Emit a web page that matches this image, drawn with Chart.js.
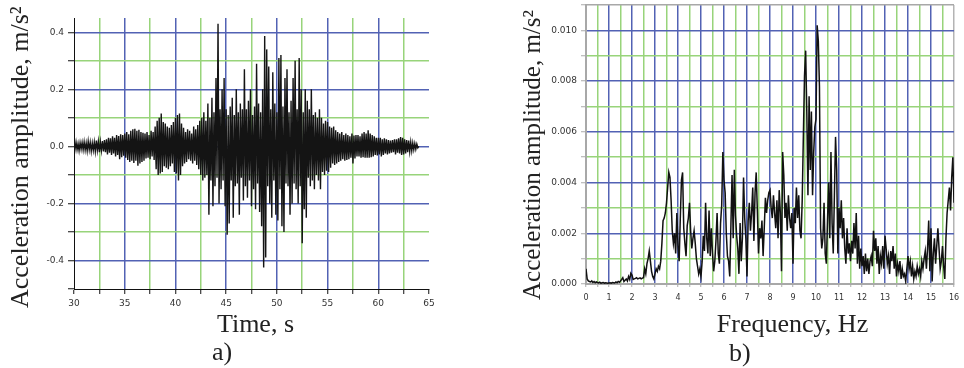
<!DOCTYPE html>
<html>
<head>
<meta charset="utf-8">
<script src="https://cdn.jsdelivr.net/npm/chart.js@4.4.1/dist/chart.umd.min.js"></script>
<style>
  html, body { margin: 0; padding: 0; background: #fff; }
  #wrap { position: relative; width: 964px; height: 368px; overflow: hidden; }
  canvas { position: absolute; top: 0; }
  #timeCanvas { left: 0; }
  #freqCanvas { left: 480px; }
  .label {
    position: absolute;
    font-family: 'Liberation Serif', 'Times New Roman', serif;
    font-size: 26px;
    line-height: 26px;
    color: #222;
    white-space: nowrap;
  }
  .ytitle { width: 320px; text-align: left; transform: rotate(-90deg); }
  .xtitle { width: 200px; text-align: center; }
</style>
</head>
<body>
<div id="wrap">
  <canvas id="timeCanvas" width="440" height="368"></canvas>
  <canvas id="freqCanvas" width="484" height="368"></canvas>
  <div class="label ytitle" style="left:-140.5px; top:135px;">Acceleration amplitude, m/s²</div>
  <div class="label xtitle" style="left:155.5px; top:311px;">Time, s</div>
  <div class="label" style="left:212px; top:339px;">a)</div>
  <div class="label ytitle" style="left:371.5px; top:127px; font-size:25px;">Acceleration amplitude, m/s²</div>
  <div class="label xtitle" style="left:692.5px; top:311px;">Frequency, Hz</div>
  <div class="label" style="left:729px; top:340px;">b)</div>
</div>
<script>
// a) acceleration record, one value every 0.1 s starting at 30 s
const timeStart = 30;
const timeStep = 0.1;
const accel = [
  0.012,-0.01,0.015,-0.012,0.01,-0.015,0.013,-0.01,0.014,-0.012,
  0.016,-0.013,0.012,-0.016,0.018,-0.012,0.014,-0.017,0.012,-0.014,
  0.015,-0.018,0.02,-0.014,0.017,-0.02,0.016,-0.015,0.019,-0.018,
  0.022,-0.02,0.025,-0.028,0.03,-0.022,0.028,-0.03,0.035,-0.025,
  0.03,-0.035,0.04,-0.03,0.036,-0.045,0.042,-0.038,0.04,-0.033,
  0.045,-0.04,0.05,-0.048,0.042,-0.055,0.055,-0.05,0.06,-0.058,
  0.062,-0.05,0.055,-0.068,0.058,-0.06,0.05,-0.055,0.048,-0.05,
  0.045,-0.042,0.05,-0.04,0.04,-0.045,0.055,-0.035,0.05,-0.048,
  0.07,-0.08,0.09,-0.1,0.1,-0.095,0.115,-0.09,0.085,-0.07,
  0.08,-0.075,0.07,-0.08,0.065,-0.07,0.075,-0.06,0.085,-0.09,
  0.1,-0.095,0.11,-0.12,0.115,-0.1,0.08,-0.07,0.065,-0.06,
  0.05,-0.055,0.06,-0.045,0.055,-0.05,0.045,-0.06,0.07,-0.05,
  0.06,-0.065,0.075,-0.08,0.09,-0.1,0.1,-0.12,0.12,-0.11,
  0.09,-0.1,0.15,-0.24,0.1,-0.12,0.17,-0.21,0.12,-0.14,
  0.24,-0.11,0.43,-0.2,0.13,-0.15,0.2,-0.12,0.24,-0.21,
  0.13,-0.31,0.11,-0.27,0.14,-0.12,0.17,-0.25,0.11,-0.14,
  0.2,-0.13,0.12,-0.24,0.15,-0.11,0.13,-0.19,0.27,-0.14,
  0.13,-0.18,0.16,-0.12,0.2,-0.21,0.11,-0.15,0.14,-0.22,
  0.29,-0.13,0.15,-0.23,0.12,-0.28,0.2,-0.425,0.387,-0.39,
  0.34,-0.14,0.28,-0.2,0.13,-0.25,0.26,-0.12,0.15,-0.24,
  0.12,-0.26,0.31,-0.15,0.32,-0.28,0.14,-0.3,0.24,-0.13,
  0.27,-0.14,0.12,-0.24,0.16,-0.2,0.24,-0.13,0.3,-0.15,
  0.13,-0.2,0.31,-0.14,0.2,-0.34,0.12,-0.22,0.2,-0.25,
  0.16,-0.11,0.13,-0.14,0.2,-0.12,0.11,-0.15,0.12,-0.1,
  0.1,-0.12,0.13,-0.15,0.1,-0.09,0.08,-0.1,0.09,-0.085,
  0.085,-0.09,0.07,-0.075,0.065,-0.06,0.07,-0.065,0.056,-0.06,
  0.05,-0.055,0.045,-0.05,0.05,-0.045,0.04,-0.05,0.045,-0.048,
  0.04,-0.045,0.035,-0.04,0.045,-0.06,0.038,-0.042,0.04,-0.035,
  0.04,-0.035,0.035,-0.04,0.045,-0.038,0.05,-0.04,0.045,-0.04,
  0.056,-0.04,0.045,-0.038,0.04,-0.035,0.035,-0.03,0.03,-0.032,
  0.03,-0.028,0.03,-0.035,0.025,-0.03,0.028,-0.025,0.025,-0.028,
  0.022,-0.025,0.02,-0.022,0.022,-0.02,0.025,-0.028,0.025,-0.022,
  0.028,-0.025,0.033,-0.03,0.03,-0.028,0.025,-0.025,0.022,-0.02,
  0.02,-0.018,0.015,-0.016,0.012,-0.012,0.01,-0.01,0.008,-0.005,
  0
];
const timeTicks = [30, 32.5, 35, 37.5, 40, 42.5, 45, 47.5, 50, 52.5, 55, 57.5, 60, 62.5, 65];
const accelTicks = [-0.5, -0.4, -0.3, -0.2, -0.1, 0, 0.1, 0.2, 0.3, 0.4];

// b) Fourier amplitude spectrum, one value every 0.05 Hz from 0 Hz
const freqStep = 0.05;
const spectrum = [
  0.0006,0.0002,0.00012,0.0001,0.00008,0.00012,0.00006,0.0001,0.00005,0.00008,
  0.00006,0.00004,0.00007,0.00003,0.00005,0.00006,0.00003,0.00005,0.00004,0.00003,
  0.00004,0.00005,0.00003,0.00006,0.00005,0.00004,0.00008,0.00005,0.0001,0.00007,
  0.00012,0.00018,0.00025,0.0001,0.00015,0.0002,0.00012,0.0003,0.00018,0.00042,
  0.00035,0.00018,0.0002,0.00022,0.00025,0.0002,0.00022,0.00024,0.0002,0.00023,
  0.00025,0.0006,0.0004,0.0008,0.001,0.0013,0.0009,0.0005,0.0003,0.0002,
  0.0004,0.0006,0.0005,0.0007,0.0006,0.0009,0.0016,0.0025,0.0026,0.0028,
  0.0032,0.0038,0.0044,0.0042,0.0033,0.0021,0.0016,0.002,0.0012,0.0028,
  0.0015,0.0009,0.0026,0.0041,0.0044,0.0022,0.0016,0.0011,0.0023,0.0026,
  0.0032,0.0021,0.0014,0.0018,0.0021,0.0016,0.001,0.0007,0.0004,0.0006,
  0.0003,0.0009,0.0019,0.0013,0.0032,0.0018,0.0012,0.0029,0.0011,0.0022,
  0.0012,0.0005,0.0009,0.0017,0.0028,0.0012,0.0008,0.0024,0.0031,0.0052,
  0.0041,0.0036,0.002,0.0011,0.0009,0.0003,0.0023,0.0043,0.0018,0.0045,
  0.0027,0.0019,0.0014,0.0004,0.0024,0.0009,0.0018,0.0042,0.0026,0.0018,
  0.0003,0.0025,0.0032,0.0021,0.0028,0.0038,0.0017,0.0036,0.0044,0.0029,
  0.0012,0.0022,0.0018,0.0025,0.0011,0.0022,0.0034,0.0028,0.0033,0.0036,
  0.0037,0.003,0.0026,0.0035,0.0028,0.0022,0.0033,0.0018,0.0037,0.0028,
  0.0005,0.0052,0.0043,0.0026,0.0032,0.0021,0.0035,0.0026,0.0022,0.0028,
  0.0008,0.003,0.0024,0.0038,0.0026,0.0035,0.0021,0.0018,0.0033,0.0058,
  0.0082,0.0092,0.0068,0.0035,0.0074,0.0045,0.0068,0.0035,0.0052,0.0062,
  0.0065,0.0102,0.0096,0.0078,0.0022,0.0014,0.0018,0.0032,0.0012,0.0008,
  0.0025,0.004,0.0018,0.0052,0.0024,0.0012,0.0035,0.0058,0.0045,0.0012,
  0.003,0.0022,0.0033,0.0018,0.0026,0.0014,0.0008,0.0022,0.0012,0.0016,
  0.0009,0.0017,0.0012,0.0024,0.0014,0.0028,0.0008,0.0019,0.0006,0.0014,
  0.0007,0.0011,0.0004,0.0012,0.0005,0.001,0.0004,0.0009,0.0011,0.0007,
  0.0021,0.0013,0.0018,0.0008,0.0015,0.0004,0.0011,0.0008,0.0015,0.0006,
  0.0019,0.0014,0.0008,0.0011,0.0004,0.0013,0.0009,0.0015,0.0006,0.0012,
  0.0003,0.0008,0.0005,0.0009,0.0002,0.0006,0.0003,0.0004,0.0001,0.0006,
  0.0011,0.0006,0.0009,0.0003,0.0007,0.0002,0.0005,0.0003,0.0007,0.0004,
  0.0006,0.0003,0.0009,0.0006,0.001,0.0013,0.0006,0.0014,0.0025,0.0005,
  0.0022,0.0001,0.0012,0.0018,0.0008,0.0015,0.0022,0.0014,0.0006,0.0009,
  0.0015,0.0007,0.0002,0.0018,0.0028,0.0033,0.0038,0.0029,0.0042,0.005,
  0.0032
];
const freqTicks = [0, 0.5, 1, 1.5, 2, 2.5, 3, 3.5, 4, 4.5, 5, 5.5, 6, 6.5, 7, 7.5, 8,
  8.5, 9, 9.5, 10, 10.5, 11, 11.5, 12, 12.5, 13, 13.5, 14, 14.5, 15, 15.5, 16];
const specTicks = [0, 0.001, 0.002, 0.003, 0.004, 0.005, 0.006, 0.007, 0.008, 0.009, 0.01, 0.011];

const blue = '#5262b4';
const green = '#98d47a';
const none = 'rgba(0,0,0,0)';
const gridWidth = 1.5;
const tickFont = { family: "'DejaVu Sans', Verdana, sans-serif", size: 9 };

const timePoints = accel.map((v, i) => ({ x: +(timeStart + i * timeStep).toFixed(2), y: v }));
const freqPoints = spectrum.map((v, i) => ({ x: +(i * freqStep).toFixed(2), y: v }));

const fixedTicks = list => scale => { scale.ticks = list.map(v => ({ value: v })); };
// grid colour picked from the tick list by index
const gridColor = (list, pick) => c => {
  const v = list[c.index];
  return v === undefined ? none : pick(v);
};

new Chart(document.getElementById('timeCanvas'), {
  type: 'line',
  data: {
    datasets: [{ data: timePoints, borderColor: '#141414', borderWidth: 1.4, pointRadius: 0, tension: 0 }]
  },
  options: {
    responsive: false,
    animation: false,
    plugins: { legend: { display: false }, tooltip: { enabled: false } },
    layout: { padding: { top: 18, right: 11, left: 0, bottom: 0 } },
    scales: {
      x: {
        type: 'linear', min: 30, max: 65,
        afterFit: s => { s.height = 79; s.paddingLeft = 0; s.paddingRight = 0; },
        afterBuildTicks: fixedTicks(timeTicks),
        ticks: {
          autoSkip: false, maxRotation: 0, padding: 4, color: '#333', font: tickFont,
          callback: v => (v % 5 === 0 ? String(v) : '')
        },
        grid: {
          color: gridColor(timeTicks, v => (v === 30 || v === 65 ? none : v % 5 === 0 ? blue : green)),
          lineWidth: gridWidth, tickLength: 5, tickColor: '#111', tickWidth: 1
        },
        border: { color: '#111', width: 1 }
      },
      y: {
        type: 'linear', min: -0.5, max: 0.45,
        afterFit: s => { s.width = 74; s.paddingTop = 0; s.paddingBottom = 0; },
        afterBuildTicks: fixedTicks(accelTicks),
        ticks: {
          autoSkip: false, padding: 4, color: '#333', font: tickFont,
          callback: v => (Math.round(v * 10) % 2 === 0 && v > -0.45 ? v.toFixed(1) : '')
        },
        grid: {
          color: gridColor(accelTicks, v => (v <= -0.45 ? none : Math.round(v * 10) % 2 === 0 ? blue : green)),
          lineWidth: gridWidth, tickLength: 6, tickColor: '#111', tickWidth: 1
        },
        border: { color: '#111', width: 1 }
      }
    }
  }
});

new Chart(document.getElementById('freqCanvas'), {
  type: 'line',
  data: {
    datasets: [{ data: freqPoints, borderColor: '#111', borderWidth: 1.5, pointRadius: 0, tension: 0 }]
  },
  options: {
    responsive: false,
    animation: false,
    plugins: { legend: { display: false }, tooltip: { enabled: false } },
    layout: { padding: { top: 5, right: 10, left: 0, bottom: 0 } },
    scales: {
      x: {
        type: 'linear', min: 0, max: 16,
        afterFit: s => { s.height = 84; s.paddingLeft = 0; s.paddingRight = 0; },
        afterBuildTicks: fixedTicks(freqTicks),
        ticks: {
          autoSkip: false, maxRotation: 0, padding: 6, color: '#333',
          font: { family: tickFont.family, size: 8 },
          callback: v => (Number.isInteger(v) ? String(v) : '')
        },
        grid: {
          color: gridColor(freqTicks, v => (v === 0 ? none : v === 16 ? '#b4b4b4' : Number.isInteger(v) ? blue : green)),
          lineWidth: gridWidth, tickLength: 3, tickColor: '#aaa', tickWidth: 1
        },
        border: { color: '#a8a8a8', width: 2 }
      },
      y: {
        type: 'linear', min: 0, max: 0.011,
        afterFit: s => { s.width = 106; s.paddingTop = 0; s.paddingBottom = 0; },
        afterBuildTicks: fixedTicks(specTicks),
        ticks: {
          autoSkip: false, padding: 4, color: '#333', font: tickFont,
          callback: v => (Math.round(v * 1000) % 2 === 0 ? v.toFixed(3) : '')
        },
        grid: {
          color: gridColor(specTicks, v => (v === 0 ? none : v > 0.0105 ? '#a8a8a8' : Math.round(v * 1000) % 2 === 0 ? blue : green)),
          lineWidth: gridWidth, tickLength: 5, tickColor: '#aaa', tickWidth: 1
        },
        border: { color: '#a8a8a8', width: 2 }
      }
    }
  }
});
</script>
</body>
</html>
